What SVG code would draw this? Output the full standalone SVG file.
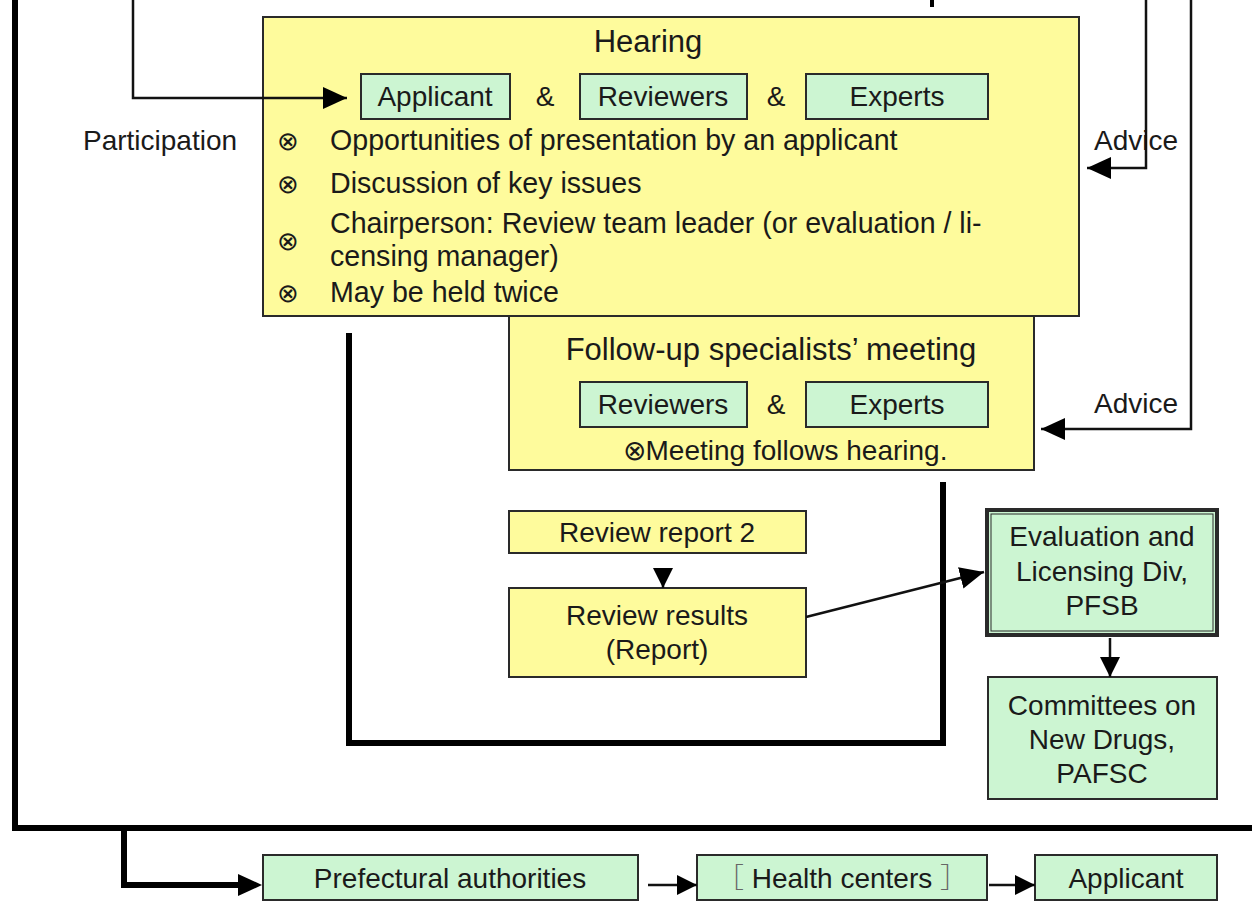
<svg xmlns="http://www.w3.org/2000/svg" width="1252" height="902" viewBox="0 0 1252 902">
  <style>
    .t { font-family: "Liberation Sans", Arial, sans-serif; font-size: 28px; fill: #1a1a1a; }
    .c { text-anchor: middle; }
    .b { font-size: 26px; text-anchor: middle; }
    .h { font-size: 31px; }
    .li { font-size: 28.6px; }
    .yel { fill: #fefb9c; stroke: #2a2a2a; stroke-width: 2; }
    .grn { fill: #ccf5d2; stroke: #2a2a2a; stroke-width: 2; }
    .thin { fill: none; stroke: #111; stroke-width: 2.5; }
    .thick { fill: none; stroke: #000; stroke-width: 6; }
  </style>
  <defs>
    <marker id="ah" markerWidth="24" markerHeight="22" refX="24" refY="11" orient="auto" markerUnits="userSpaceOnUse">
      <path d="M0,0 L24,11 L0,22 z" fill="#000"/>
    </marker>
    <marker id="ahs" markerWidth="20" markerHeight="20" refX="20" refY="10" orient="auto" markerUnits="userSpaceOnUse">
      <path d="M0,0 L20,10 L0,20 z" fill="#000"/>
    </marker>
  </defs>

  <!-- Hearing -->
  <g id="hearing">
    <rect class="yel" x="263" y="17" width="816" height="299"/>
    <text class="t c h" x="648" y="52">Hearing</text>
    <text class="t b" x="288" y="150">⊗</text>
    <text class="t li" x="330" y="150">Opportunities of presentation by an applicant</text>
    <text class="t b" x="288" y="193">⊗</text>
    <text class="t li" x="330" y="193">Discussion of key issues</text>
    <text class="t b" x="288" y="250">⊗</text>
    <text class="t li" x="330" y="233">Chairperson: Review team leader (or evaluation / li-</text>
    <text class="t li" x="330" y="266">censing manager)</text>
    <text class="t b" x="288" y="302">⊗</text>
    <text class="t li" x="330" y="302">May be held twice</text>
  </g>
  <g id="hearing-applicant">
    <rect class="grn" x="361" y="74" width="149" height="45"/>
    <text class="t c" x="435" y="106">Applicant</text>
  </g>
  <text class="t c" x="545" y="106">&amp;</text>
  <g id="hearing-reviewers">
    <rect class="grn" x="580" y="74" width="167" height="45"/>
    <text class="t c" x="663" y="106">Reviewers</text>
  </g>
  <text class="t c" x="776" y="106">&amp;</text>
  <g id="hearing-experts">
    <rect class="grn" x="806" y="74" width="182" height="45"/>
    <text class="t c" x="897" y="106">Experts</text>
  </g>

  <!-- Follow-up specialists' meeting -->
  <g id="followup">
    <rect class="yel" x="509" y="316" width="525" height="154"/>
    <text class="t c h" x="771" y="360">Follow-up specialists’ meeting</text>
    <text class="t c" x="785" y="460">⊗Meeting follows hearing.</text>
  </g>
  <g id="followup-reviewers">
    <rect class="grn" x="580" y="382" width="167" height="45"/>
    <text class="t c" x="663" y="414">Reviewers</text>
  </g>
  <text class="t c" x="776" y="414">&amp;</text>
  <g id="followup-experts">
    <rect class="grn" x="806" y="382" width="182" height="45"/>
    <text class="t c" x="897" y="414">Experts</text>
  </g>

  <g id="report2">
    <rect class="yel" x="509" y="511" width="297" height="42"/>
    <text class="t c" x="657" y="542">Review report 2</text>
  </g>
  <g id="results">
    <rect class="yel" x="509" y="588" width="297" height="89"/>
    <text class="t c" x="657" y="625">Review results</text>
    <text class="t c" x="657" y="659">(Report)</text>
  </g>

  <g id="evaluation">
    <rect x="987" y="510" width="230" height="125" fill="#ccf5d2" stroke="#2a2a2a" stroke-width="4"/>
    <rect x="991" y="514" width="222" height="117" fill="none" stroke="#2a2a2a" stroke-width="1"/>
    <text class="t c" x="1102" y="546" font-size="29">Evaluation and</text>
    <text class="t c" x="1102" y="581" font-size="29">Licensing Div,</text>
    <text class="t c" x="1102" y="615" font-size="29">PFSB</text>
  </g>
  <g id="committees">
    <rect class="grn" x="988" y="677" width="229" height="122"/>
    <text class="t c" x="1102" y="715">Committees on</text>
    <text class="t c" x="1102" y="749">New Drugs,</text>
    <text class="t c" x="1102" y="783">PAFSC</text>
  </g>

  <g id="prefectural">
    <rect class="grn" x="263" y="855" width="375" height="45"/>
    <text class="t c" x="450" y="888">Prefectural authorities</text>
  </g>
  <g id="health">
    <rect class="grn" x="697" y="855" width="290" height="45"/>
    <text class="t c" x="842" y="888"><tspan font-family="'Noto Sans CJK JP', sans-serif" font-weight="300" fill="#666">［</tspan> Health centers <tspan font-family="'Noto Sans CJK JP', sans-serif" font-weight="300" fill="#666">］</tspan></text>
  </g>
  <g id="applicant">
    <rect class="grn" x="1035" y="855" width="182" height="45"/>
    <text class="t c" x="1126" y="888">Applicant</text>
  </g>

  <!-- side labels -->
  <text class="t" x="83" y="150">Participation</text>
  <text class="t" x="1094" y="150">Advice</text>
  <text class="t" x="1094" y="413">Advice</text>

  <!-- connectors -->
  <g id="connectors">
    <path class="thick" d="M15,0 V828 H1252"/>
    <path class="thick" d="M124,828 V885 H244" stroke-width="5"/>
    <path d="M238,874 L262,885 L238,896 z" fill="#000"/>
    <path class="thick" d="M349,333 V743 H943 V482" stroke-width="5"/>
    <line x1="932" y1="0" x2="932" y2="7" stroke="#000" stroke-width="4"/>
    <path class="thin" d="M133,0 V98 H347" marker-end="url(#ah)"/>
    <path class="thin" d="M1146,0 V168 H1087" marker-end="url(#ah)"/>
    <path class="thin" d="M1191,0 V429 H1041" marker-end="url(#ah)"/>
    <line class="thin" x1="663" y1="570" x2="663" y2="588" marker-end="url(#ahs)"/>
    <line class="thin" x1="806" y1="617" x2="984" y2="572" marker-end="url(#ah)"/>
    <line class="thin" x1="1110" y1="638" x2="1110" y2="677" marker-end="url(#ahs)"/>
    <line class="thin" x1="648" y1="885" x2="697" y2="885" marker-end="url(#ahs)"/>
    <line class="thin" x1="989" y1="885" x2="1035" y2="885" marker-end="url(#ahs)"/>
  </g>
</svg>
